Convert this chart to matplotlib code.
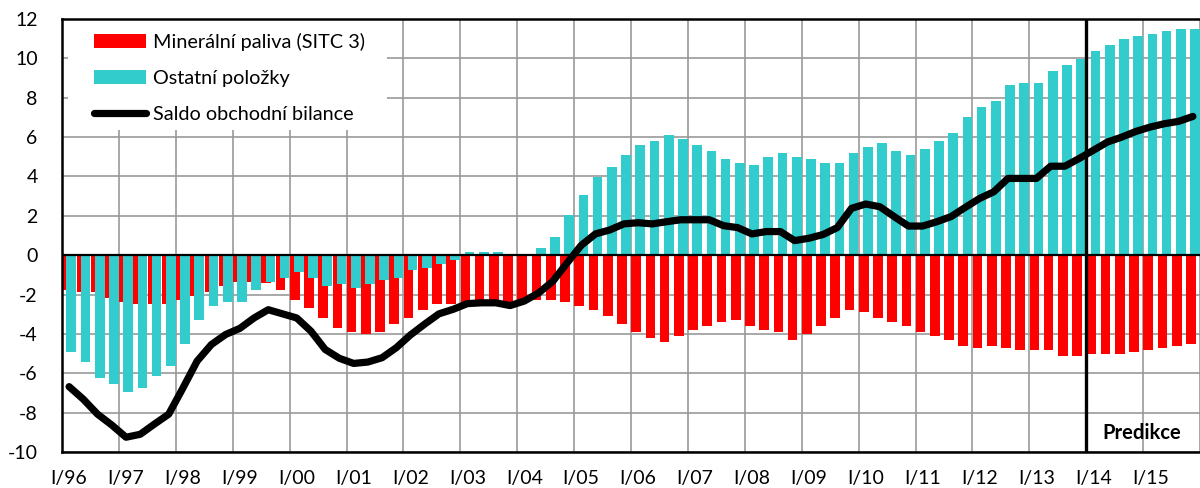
import matplotlib
matplotlib.use("Agg")
import matplotlib.pyplot as plt
from matplotlib.lines import Line2D
from matplotlib.patches import Patch, Rectangle
import numpy as np

plt.rcParams['font.family'] = ['Lato', 'DejaVu Sans']
plt.rcParams['axes.unicode_minus'] = False

years = ["96", "97", "98", "99", "00", "01", "02", "03", "04", "05",
         "06", "07", "08", "09", "10", "11", "12", "13", "14", "15"]
tick_labels = ["I/" + y for y in years]

fuels = [-1.79, -1.89, -1.89, -2.19, -2.38, -2.46, -2.46, -2.46,
         -2.29, -2.06, -1.89, -1.59, -1.38, -1.38, -1.43, -1.77,
         -2.28, -2.66, -3.20, -3.70, -3.88, -3.99, -3.90, -3.49,
         -3.20, -2.80, -2.47, -2.47, -2.60, -2.55, -2.55, -2.60,
         -2.35, -2.28, -2.28, -2.37, -2.59, -2.80, -3.09, -3.50,
         -3.89, -4.21, -4.40, -4.10, -3.80, -3.60, -3.40, -3.29,
         -3.60, -3.80, -3.91, -4.30, -4.00, -3.59, -3.19, -2.80,
         -2.88, -3.19, -3.39, -3.59, -3.90, -4.10, -4.30, -4.60,
         -4.70, -4.60, -4.70, -4.81, -4.81, -4.81, -5.11, -5.11,
         -5.00, -5.00, -5.00, -4.91, -4.81, -4.70, -4.60, -4.50]

other = [-4.91, -5.41, -6.22, -6.53, -6.93, -6.73, -6.12, -5.62,
         -4.50, -3.29, -2.58, -2.38, -2.38, -1.77, -1.35, -1.18,
         -0.86, -1.18, -1.57, -1.47, -1.69, -1.47, -1.28, -1.18,
         -0.77, -0.65, -0.46, -0.25, 0.14, 0.14, 0.14, 0.00,
         0.00, 0.34, 0.94, 2.04, 3.05, 3.98, 4.49, 5.09,
         5.60, 5.80, 6.09, 5.90, 5.60, 5.30, 4.89, 4.69,
         4.59, 4.99, 5.19, 4.99, 4.89, 4.69, 4.69, 5.19,
         5.50, 5.70, 5.30, 5.09, 5.40, 5.80, 6.21, 7.02,
         7.52, 7.82, 8.63, 8.74, 8.74, 9.34, 9.65, 9.95,
         10.35, 10.66, 10.96, 11.16, 11.26, 11.37, 11.47, 11.47]

balance = [-6.68, -7.32, -8.08, -8.63, -9.25, -9.10, -8.58, -8.08,
           -6.75, -5.38, -4.54, -4.03, -3.72, -3.19, -2.77, -2.98,
           -3.19, -3.86, -4.79, -5.24, -5.50, -5.43, -5.21, -4.70,
           -4.05, -3.50, -2.98, -2.75, -2.46, -2.42, -2.42, -2.56,
           -2.33, -1.92, -1.33, -0.40, 0.50, 1.08, 1.28, 1.59,
           1.65, 1.59, 1.70, 1.80, 1.80, 1.80, 1.50, 1.40,
           1.08, 1.20, 1.20, 0.74, 0.86, 1.05, 1.40, 2.38,
           2.60, 2.46, 1.96, 1.48, 1.48, 1.70, 1.96, 2.43,
           2.88, 3.22, 3.90, 3.90, 3.90, 4.52, 4.52, 4.91,
           5.33, 5.75, 6.00, 6.29, 6.51, 6.68, 6.80, 7.05]

forecast_start = 72  # I/14

RED = "#FF0000"
CYAN = "#33CCCC"
GRID = "#999999"

W, H = 1200, 488
fig = plt.figure(figsize=(W / 100, H / 100), dpi=100)
ax = fig.add_axes([62 / W, 1 - 452 / H, 1 - 62 / W, (452 - 19) / H])

x = np.arange(len(fuels))
w = 0.68
ax.bar(x - 0.14, fuels, width=w, color=RED, zorder=2, linewidth=0)
ax.bar(x + 0.15, other, width=w, color=CYAN, zorder=3, linewidth=0)
ax.axhline(0, color="black", lw=1.6, zorder=4)
ax.plot(x, balance, color="black", lw=5.2, zorder=6,
        solid_capstyle="round", solid_joinstyle="round")
ax.axvline(forecast_start - 0.5, color="black", lw=2.4, zorder=7)
ax.text(75.4, -9.05, "Predikce", ha="center", va="center",
        fontsize=14.5, fontweight="bold", zorder=8)

ax.set_xlim(-0.5, 78.97)
ax.set_ylim(-10, 12)
ax.set_yticks(np.arange(-10, 13, 2))
ax.set_xticks(np.arange(0, len(fuels), 4))
ax.set_xticklabels(tick_labels)
ax.set_xticks(np.arange(-0.5, len(fuels), 4), minor=True)
ax.grid(False)
ax.xaxis.grid(True, which="minor", color=GRID, lw=1.2, zorder=0)
ax.yaxis.grid(True, which="major", color=GRID, lw=1.2, zorder=0)
ax.set_axisbelow(True)
ax.tick_params(axis="both", which="both", length=0, labelsize=14)
ax.tick_params(axis="y", pad=17.5)
ax.tick_params(axis="x", pad=13)
for s in ["left", "top", "bottom"]:
    ax.spines[s].set_linewidth(1.8)
    ax.spines[s].set_color("black")
ax.spines["right"].set_visible(False)

# white legend background box (pixel coordinates)
bg = Rectangle((68 / W, 1 - 130 / H), (387 - 68) / W, (130 - 20) / H,
               transform=fig.transFigure, facecolor="white", edgecolor="none",
               zorder=1)
ax.add_artist(bg)

handles = [Patch(facecolor=RED, edgecolor="none"),
           Patch(facecolor=CYAN, edgecolor="none"),
           Line2D([0], [0], color="black", lw=5.2, solid_capstyle="round")]
labels = ["Minerální paliva (SITC 3)", "Ostatní položky", "Saldo obchodní bilance"]
leg = fig.legend(handles, labels, loc="upper left",
                 bbox_to_anchor=(94 / W, 1 - 33 / H),
                 frameon=False, fontsize=14.3, handlelength=2.6, handleheight=0.65,
                 handletextpad=0.35, labelspacing=0.95, borderpad=0,
                 borderaxespad=0)
leg.set_zorder(10)

fig.savefig("out.png", dpi=100)
